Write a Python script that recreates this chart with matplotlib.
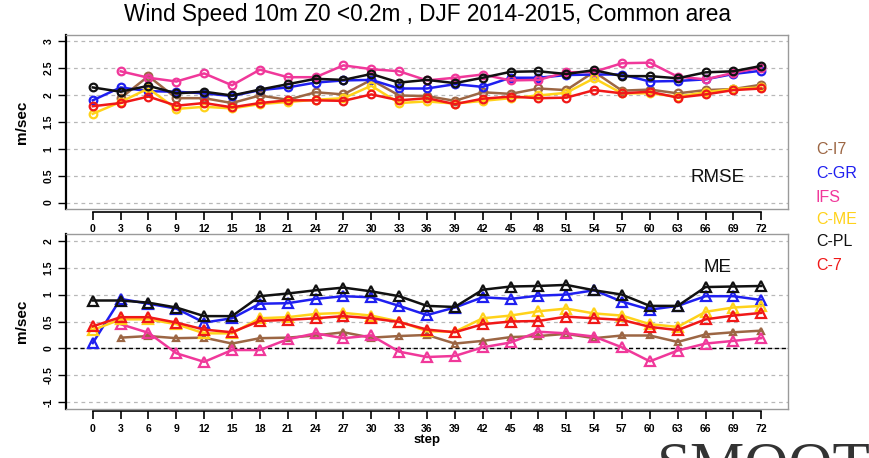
import matplotlib
matplotlib.use("Agg")
import matplotlib.pyplot as plt
import numpy as np

plt.rcParams['font.family'] = ['Liberation Sans', 'DejaVu Sans']

steps = list(range(0, 73, 3))
steps_from3 = steps[1:]

models = ["C-I7", "C-GR", "IFS", "C-ME", "C-PL", "C-7"]
colors = {"C-I7": "#9C6644", "C-GR": "#1F1FF0", "IFS": "#F0389A",
          "C-ME": "#FFD21A", "C-PL": "#111111", "C-7": "#F01818"}

# RMSE values (C-I7 and IFS start at step 3)
rmse_ci7 = [1.94, 2.35, 1.94, 1.94, 1.85, 1.99, 1.91, 2.05, 2.01, 2.28, 1.99, 1.98,
            1.89, 2.05, 2.02, 2.12, 2.09, 2.43, 2.08, 2.10, 2.03, 2.09, 2.11, 2.19]
rmse_cgr = [1.90, 2.14, 2.07, 2.06, 2.03, 1.98, 2.09, 2.14, 2.23, 2.27, 2.28, 2.12, 2.12,
            2.20, 2.15, 2.32, 2.32, 2.37, 2.38, 2.38, 2.25, 2.26, 2.29, 2.39, 2.45]
rmse_ifs = [2.44, 2.32, 2.25, 2.40, 2.18, 2.47, 2.33, 2.33, 2.55, 2.48, 2.44, 2.27,
            2.32, 2.38, 2.27, 2.28, 2.42, 2.43, 2.59, 2.60, 2.34, 2.29, 2.41, 2.51]
rmse_cme = [1.65, 1.87, 2.12, 1.74, 1.78, 1.75, 1.83, 1.87, 1.91, 1.94, 2.17, 1.85, 1.88,
            1.84, 1.89, 1.94, 1.99, 2.04, 2.31, 2.03, 2.03, 1.97, 2.05, 2.11, 2.14]
rmse_cpl = [2.14, 2.06, 2.17, 2.03, 2.06, 1.99, 2.10, 2.20, 2.30, 2.28, 2.39, 2.23, 2.28,
            2.22, 2.32, 2.43, 2.44, 2.39, 2.46, 2.35, 2.35, 2.31, 2.42, 2.44, 2.54]
rmse_c7 = [1.79, 1.85, 1.97, 1.80, 1.85, 1.77, 1.85, 1.90, 1.90, 1.89, 2.01, 1.90, 1.94,
           1.83, 1.93, 1.97, 1.94, 1.95, 2.09, 2.03, 2.06, 1.95, 2.01, 2.09, 2.12]

# ME values
me_ci7 = [0.20, 0.23, 0.19, 0.20, 0.09, 0.19, 0.20, 0.24, 0.30, 0.20, 0.23, 0.25,
          0.09, 0.14, 0.21, 0.23, 0.27, 0.19, 0.24, 0.24, 0.12, 0.26, 0.30, 0.33]
me_cgr = [0.10, 0.92, 0.83, 0.74, 0.48, 0.56, 0.83, 0.84, 0.92, 0.97, 0.95, 0.79, 0.62,
          0.76, 0.95, 0.92, 0.98, 1.00, 1.08, 0.87, 0.72, 0.79, 0.97, 0.97, 0.90]
me_ifs = [0.45, 0.29, -0.09, -0.25, -0.03, -0.03, 0.17, 0.28, 0.19, 0.24, -0.06, -0.16,
          -0.14, 0.02, 0.11, 0.31, 0.28, 0.22, 0.02, -0.24, -0.04, 0.09, 0.14, 0.19]
me_cme = [0.34, 0.54, 0.54, 0.45, 0.28, 0.28, 0.56, 0.58, 0.64, 0.66, 0.61, 0.50, 0.32,
          0.31, 0.56, 0.61, 0.69, 0.74, 0.65, 0.61, 0.45, 0.40, 0.68, 0.76, 0.79]
me_cpl = [0.89, 0.89, 0.85, 0.76, 0.60, 0.60, 0.97, 1.02, 1.08, 1.13, 1.06, 0.97, 0.79,
          0.77, 1.09, 1.15, 1.16, 1.18, 1.08, 1.00, 0.79, 0.79, 1.14, 1.15, 1.16]
me_c7 = [0.41, 0.58, 0.58, 0.48, 0.35, 0.30, 0.51, 0.53, 0.56, 0.60, 0.56, 0.49, 0.35,
         0.30, 0.45, 0.50, 0.51, 0.59, 0.56, 0.53, 0.40, 0.34, 0.54, 0.61, 0.66]

rmse = {"C-I7": (steps_from3, rmse_ci7), "C-GR": (steps, rmse_cgr),
        "IFS": (steps_from3, rmse_ifs), "C-ME": (steps, rmse_cme),
        "C-PL": (steps, rmse_cpl), "C-7": (steps, rmse_c7)}
me = {"C-I7": (steps_from3, me_ci7), "C-GR": (steps, me_cgr),
      "IFS": (steps_from3, me_ifs), "C-ME": (steps, me_cme),
      "C-PL": (steps, me_cpl), "C-7": (steps, me_c7)}

W, H = 870, 458
fig = plt.figure(figsize=(W / 100, H / 100), dpi=100)

L, R = 66, 788


def make_ax(top_px, bot_px, ylim, yticks, yticklabels):
    ax = fig.add_axes([L / W, 1 - bot_px / H, (R - L) / W, (bot_px - top_px) / H])
    ax.set_xlim(-2.88, 74.88)
    ax.set_ylim(*ylim)
    for y in yticks:
        ax.axhline(y, color="#B8B8B8", lw=0.9, ls=(0, (3, 3)), zorder=0)
    for s in ["top", "right"]:
        ax.spines[s].set_color("#9A9A9A")
        ax.spines[s].set_linewidth(1.0)
    ax.spines["left"].set_color("black")
    ax.spines["left"].set_linewidth(1.6)
    # R-style detached x axis
    ax.spines["bottom"].set_position(("outward", 2))
    ax.spines["bottom"].set_bounds(0, 72)
    ax.spines["bottom"].set_linewidth(1.2)
    ax.plot([0, 1], [0, 0], transform=ax.transAxes, color="#9A9A9A", lw=1.0,
            clip_on=False, zorder=5)
    ax.set_yticks(yticks)
    ax.set_yticklabels(yticklabels, rotation=90, va="center", fontsize=7.5,
                       fontweight="bold")
    ax.set_xticks(steps)
    ax.set_xticklabels([str(s) for s in steps], fontsize=7.5, fontweight="bold")
    ax.tick_params(axis="y", length=6, width=1.0, pad=3)
    ax.tick_params(axis="x", length=6, width=1.2, pad=3)
    return ax


ax1 = make_ax(34.7, 209, (-0.12, 3.12), [0, 0.5, 1, 1.5, 2, 2.5, 3],
              ["0", "0.5", "1", "1.5", "2", "2.5", "3"])
ax2 = make_ax(234.3, 408.7, (-1.12, 2.12), [-1, -0.5, 0, 0.5, 1, 1.5, 2],
              ["-1", "-0.5", "0", "0.5", "1", "1.5", "2"])
ax2.axhline(0, color="black", lw=1.0, ls=(0, (3, 2)), zorder=1)

for i, m in enumerate(models):
    x, y = rmse[m]
    ax1.plot(x, y, color=colors[m], lw=1.8, marker="o", ms=5.5, mfc="none",
             mew=1.6, zorder=3 + i)
    x, y = me[m]
    ms = 4.5 if m == "C-I7" else 6.5
    ax2.plot(x, y, color=colors[m], lw=1.8, marker="^", ms=ms, mfc="none",
             mew=1.6, zorder=3 + i)

fig.text(718 / W, 1 - 177 / H, "RMSE", fontsize=13.5, ha="center", va="center",
         color="#111111")
fig.text(718 / W, 1 - 268 / H, "ME", fontsize=13.5, ha="center", va="center",
         color="#111111")

leg_y = [150, 174, 197, 219, 242, 265]
for m, yy in zip(models, leg_y):
    fig.text(816 / W, 1 - yy / H, m, fontsize=11.5, ha="left", va="center",
             color=colors[m])

fig.text(428 / W, 1 - 15 / H, "Wind Speed 10m Z0 <0.2m , DJF 2014-2015, Common area",
         fontsize=16.3, ha="center", va="center")

fig.text(22 / W, 1 - 122 / H, "m/sec", fontsize=11, fontweight="bold",
         rotation=90, ha="center", va="center")
fig.text(22 / W, 1 - 321.5 / H, "m/sec", fontsize=11, fontweight="bold",
         rotation=90, ha="center", va="center")
fig.text(427 / W, 1 - 440 / H, "step", fontsize=9.5, fontweight="bold",
         ha="center", va="center")

fig.text(657 / W, 1 - 441 / H, "SMOOT", fontsize=44, family="Liberation Serif",
         ha="left", va="top", color="#333333")

fig.savefig("out.png", dpi=100)
